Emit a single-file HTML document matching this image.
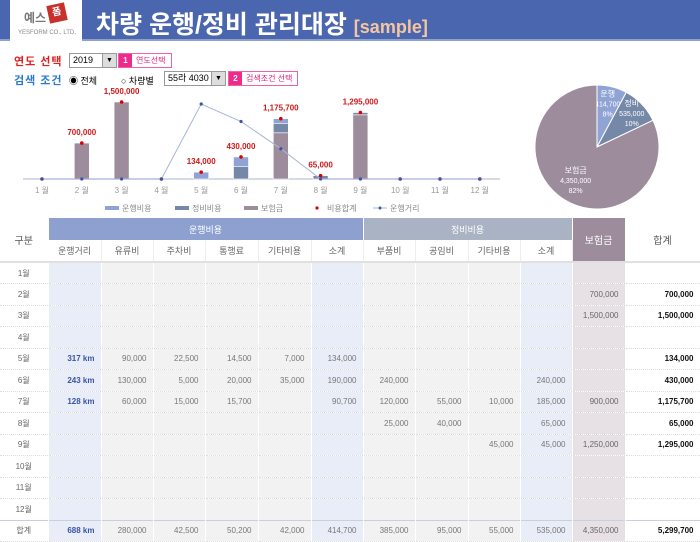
<!DOCTYPE html>
<html><head><meta charset="utf-8">
<style>
*{margin:0;padding:0;box-sizing:border-box}
body{width:700px;height:541px;overflow:hidden;background:#fff;font-family:"Liberation Sans","Noto Sans CJK KR",sans-serif;position:relative}
.abs{position:absolute}
#band{left:0;top:0;width:700px;height:41px;background:#4a66ae;border-bottom:2px solid #8ea0cf}
#logo{left:10px;top:0;width:72px;height:43px;background:#fff}
#title{left:96px;top:5px;color:#fff;font-size:25px;font-weight:bold;white-space:nowrap}
#title span{color:#f6c6a0;font-size:18px}
.lbl{font-size:11px;font-weight:bold;letter-spacing:1px}
.sel{border:1px solid #999;background:#fff;font-size:9px;height:15px;line-height:13px;padding-left:3px}
.arr{position:absolute;right:0;top:0;width:14px;height:13px;background:#ddd;border-left:1px solid #999;text-align:center;font-size:7px}
.tag{border:1px solid #f060a8;height:15px;font-size:8px;line-height:13px;color:#e0207a;background:#fff}
.tag b{display:inline-block;width:13px;height:13px;background:#ee2a8a;color:#fff;text-align:center;margin-right:4px}
table{position:absolute;left:0;top:218px;border-collapse:collapse;font-size:8px;color:#777;table-layout:fixed;width:700px}
td{height:21.5px;text-align:right;padding-right:6px;border-bottom:1px dotted #ddd;border-right:1px solid #fff;background:#f2f2f2;white-space:nowrap;overflow:hidden}
td.m{text-align:center;padding:0;background:#fff;color:#666}
td.b{background:#e9edf8}
td.ins{background:#e7e1e5;color:#666}
td.tot{background:#fff;color:#111;font-weight:bold}
td.km{color:#3a55a5;font-weight:bold}
th{font-weight:normal;height:22px;font-size:9px;border-right:1px solid #fff}
.hop{background:#8da0d0;color:#fff}
.hmt{background:#aab3c3;color:#fff}
.hin{background:#9c8c9c;color:#fff;font-size:10px}
.hs{background:#fff;color:#666;border-right:1px solid #eee;border-bottom:2px solid #e0e0e0}
</style></head><body>
<div id="band" class="abs"></div>
<div id="logo" class="abs">
 <div class="abs" style="left:14px;top:9px;font-size:12px;color:#777;font-weight:bold">예스</div>
 <div class="abs" style="left:38px;top:4px;width:18px;height:18px;background:#c8302c;color:#fff;font-size:10px;font-weight:bold;text-align:center;line-height:18px;transform:rotate(-12deg)">폼</div>
 <div class="abs" style="left:8px;top:30px;font-size:6px;color:#888;white-space:nowrap">YESFORM CO., LTD.</div>
</div>
<div id="title" class="abs">차량 운행/정비 관리대장 <span>[sample]</span></div>

<div class="abs lbl" style="left:14px;top:53px;color:#e02020">연도 선택</div>
<div class="abs sel" style="left:69px;top:53px;width:48px">2019<div class="arr">▼</div></div>
<div class="abs tag" style="left:118px;top:53px;width:54px"><b>1</b>연도선택</div>
<div class="abs lbl" style="left:14px;top:72px;color:#2a7ad0">검색 조건</div>
<div class="abs" style="left:69px;top:74px;font-size:9px">◉ 전체</div>
<div class="abs" style="left:121px;top:74px;font-size:9px">○ 차량별</div>
<div class="abs sel" style="left:164px;top:71px;width:62px">55라 4030<div class="arr">▼</div></div>
<div class="abs tag" style="left:228px;top:71px;width:70px"><b>2</b>검색조건 선택</div>

<svg id="chart" class="abs" style="left:0;top:0" width="520" height="216"></svg>
<svg id="pie" class="abs" style="left:520px;top:80px" width="180" height="135"></svg>

<table id="tbl">
<colgroup><col style="width:48px"><col style="width:53px"><col style="width:52px"><col style="width:52px"><col style="width:53px"><col style="width:53px"><col style="width:52px"><col style="width:52px"><col style="width:53px"><col style="width:52px"><col style="width:52px"><col style="width:53px"><col style="width:75px"></colgroup>
<tr><th rowspan="2" style="background:#fff;color:#555;font-size:10px;border-bottom:2px solid #e0e0e0">구분</th>
<th colspan="6" class="hop">운행비용</th>
<th colspan="4" class="hmt">정비비용</th>
<th rowspan="2" class="hin" style="border-bottom:2px solid #e0e0e0">보험금</th>
<th rowspan="2" style="background:#fff;color:#555;font-size:10px;border-bottom:2px solid #e0e0e0">합계</th></tr>
<tr><th class="hs">운행거리</th><th class="hs">유류비</th><th class="hs">주차비</th><th class="hs">통행료</th><th class="hs">기타비용</th><th class="hs hop">소계</th><th class="hs">부품비</th><th class="hs">공임비</th><th class="hs">기타비용</th><th class="hs hmt">소계</th></tr>
</table>

<script>
const months=['1월','2월','3월','4월','5월','6월','7월','8월','9월','10월','11월','12월'];
const opCost=[0,0,0,0,134000,190000,90700,0,0,0,0,0];
const mtCost=[0,0,0,0,0,240000,185000,65000,45000,0,0,0];
const insCost=[0,700000,1500000,0,0,0,900000,0,1250000,0,0,0];
const distance=[0,0,0,0,317,243,128,0,0,0,0,0];
const fuel=[0,0,0,0,90000,130000,60000,0,0,0,0,0];
const parking=[0,0,0,0,22500,5000,15000,0,0,0,0,0];
const toll=[0,0,0,0,14500,20000,15700,0,0,0,0,0];
const opOther=[0,0,0,0,7000,35000,0,0,0,0,0,0];
const parts=[0,0,0,0,0,240000,120000,25000,0,0,0,0];
const labor=[0,0,0,0,0,0,55000,40000,0,0,0,0];
const mtOther=[0,0,0,0,0,0,10000,0,45000,0,0,0];
const pieLabels=['운행','정비','보험금'];

const NS='http://www.w3.org/2000/svg';
function mk(p,tag,a){const e=document.createElementNS(NS,tag);for(const k in a)e.setAttribute(k,a[k]);p.appendChild(e);return e;}
const fmt=v=>v.toLocaleString('en-US');
const svg=document.getElementById('chart');
const baseY=179,x0=42,dx=39.8;
const xs=i=>x0+i*dx;
const ys=v=>baseY-v*77/1500000;
const yd=v=>baseY-v*75/317;
let ax=mk(svg,'line',{x1:23,x2:500,y1:baseY,y2:baseY,stroke:'#c8cee0','stroke-width':1.5});

months.forEach((m,i)=>{
  let t=mk(svg,'text',{x:xs(i),y:baseY+14,'text-anchor':'middle','font-size':8,fill:'#999'});t.textContent=m.replace('월',' 월');
  
  let v0=0;
  [[insCost,'#9c8c9c'],[mtCost,'#7688a8'],[opCost,'#8fa3d4']].forEach(([arr,c])=>{
    const v=arr[i];if(!v)return;
    let r=mk(svg,'rect',{x:xs(i)-7.5,width:15,y:ys(v0+v),height:ys(v0)-ys(v0+v),fill:c,stroke:'#fff','stroke-width':0.6});
    
    v0+=v;
  });
  const tot=opCost[i]+mtCost[i]+insCost[i];
  let d=mk(svg,'circle',{cx:xs(i),cy:ys(tot),r:1.8,fill:'#d00'});
  
  if(tot){let l=mk(svg,'text',{x:xs(i),y:ys(tot)-8,'text-anchor':'middle','font-size':8,'font-weight':'bold',fill:'#d01818'});l.textContent=fmt(tot);
  }
});
let pts=distance.map((v,i)=>xs(i)+','+yd(v)).join(' ');
let pl=mk(svg,'polyline',{points:pts,fill:'none',stroke:'#a8b4dc','stroke-width':1});

distance.forEach((v,i)=>{let c=mk(svg,'circle',{cx:xs(i),cy:yd(v),r:1.6,fill:'#3a55a5'});
});
const lg=[['운행비용','#8fa3d4','bar',105],['정비비용','#7688a8','bar',175],['보험금','#9c8c9c','bar',244],['비용합계','#d00','dot',310],['운행거리','#3a55a5','line',373]];
lg.forEach(([n,c,t,x])=>{
  let g=mk(svg,'g',{});
  if(t==='bar')mk(g,'rect',{x:x,y:206,width:14,height:4,fill:c});
  else if(t==='dot')mk(g,'circle',{cx:x+7,cy:208,r:1.6,fill:c});
  else{mk(g,'line',{x1:x,x2:x+14,y1:208,y2:208,stroke:'#a8b4dc'});mk(g,'circle',{cx:x+7,cy:208,r:1.5,fill:c});}
  let tt=mk(g,'text',{x:x+17,y:211,'font-size':8,fill:'#888'});tt.textContent=n;
});
const pie=document.getElementById('pie');
const opT=opCost.reduce((a,b)=>a+b,0),mtT=mtCost.reduce((a,b)=>a+b,0),inT=insCost.reduce((a,b)=>a+b,0);
const pieVals=[opT,mtT,inT];const pieCols=['#8fa3d4','#7688a8','#9c8c9c'];
const sum=pieVals.reduce((a,b)=>a+b,0);const cx=77,cy=67,R=62;
let ang=-Math.PI/2;
pieVals.forEach((v,i)=>{
  const a2=ang+v/sum*2*Math.PI;const large=(a2-ang)>Math.PI?1:0;
  let p=mk(pie,'path',{d:`M${cx},${cy}L${cx+R*Math.cos(ang)},${cy+R*Math.sin(ang)}A${R},${R} 0 ${large} 1 ${cx+R*Math.cos(a2)},${cy+R*Math.sin(a2)}Z`,fill:pieCols[i],stroke:'#fff','stroke-width':1});
  
  const mid=(ang+a2)/2,rr=i===2?40:(i===0?44:48);
  const lx=cx+rr*Math.cos(mid),ly=cy+rr*Math.sin(mid);
  let t=mk(pie,'text',{x:lx,y:ly-8,'text-anchor':'middle','font-size':8,fill:'#fff'});
  
  [pieLabels[i],fmt(v),Math.round(v/sum*100)+'%'].forEach((s,k)=>{let ts=mk(t,'tspan',{x:lx,dy:k?10:0,'font-size':k?7:8});ts.textContent=s;});
  ang=a2;
});
const tbl=document.getElementById('tbl');
function row(label,cells,isTot){
  const tr=document.createElement('tr');
  
  
  const cls=['m','b km','','','','','b','','','','b','ins','tot'];
  [label].concat(cells).forEach((v,k)=>{
    const td=document.createElement('td');td.className=cls[k];td.textContent=v;
    if(isTot)td.style.borderTop='1px solid #c8d0e0';
    if(isTot&&k===12)td.style.background='#fff';
    tr.appendChild(td);
  });
  tbl.appendChild(tr);
}
const f=v=>v?fmt(v):'';
months.forEach((m,i)=>{
  const tot=opCost[i]+mtCost[i]+insCost[i];
  row(m,[distance[i]?distance[i]+' km':'',f(fuel[i]),f(parking[i]),f(toll[i]),f(opOther[i]),f(opCost[i]),f(parts[i]),f(labor[i]),f(mtOther[i]),f(mtCost[i]),f(insCost[i]),f(tot)]);
});
const S=a=>a.reduce((x,y)=>x+y,0);
row('합계',[S(distance)+' km',fmt(S(fuel)),fmt(S(parking)),fmt(S(toll)),fmt(S(opOther)),fmt(opT),fmt(S(parts)),fmt(S(labor)),fmt(S(mtOther)),fmt(mtT),fmt(inT),fmt(opT+mtT+inT)],true);
</script>
</body></html>
